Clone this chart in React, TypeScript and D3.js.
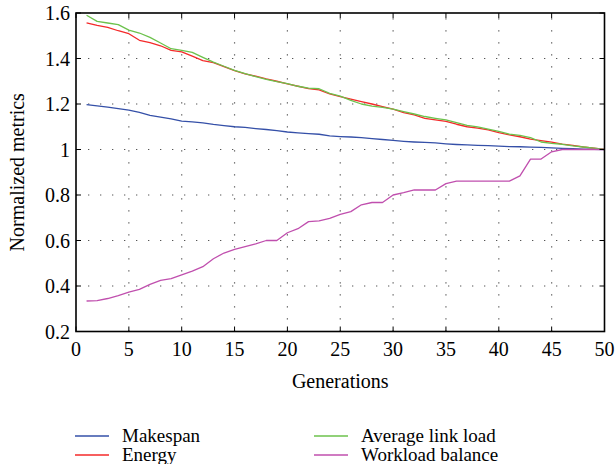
import React from 'react';
import * as d3 from 'd3';

const generations = d3.range(1, 51);

const makespan = [
  1.197, 1.192, 1.186, 1.18, 1.173, 1.163, 1.15, 1.142, 1.135, 1.125,
  1.121, 1.117, 1.11, 1.105, 1.1, 1.097, 1.092, 1.088, 1.083, 1.077,
  1.073, 1.07, 1.067, 1.06, 1.057, 1.055, 1.052, 1.048, 1.044, 1.04,
  1.036, 1.033, 1.031, 1.029, 1.025, 1.022, 1.02, 1.018, 1.017, 1.015,
  1.013, 1.012, 1.01, 1.009, 1.007, 1.005, 1.004, 1.002, 1.001, 1.0
];

const energy = [
  1.557, 1.546, 1.537, 1.522, 1.509, 1.48, 1.47, 1.456, 1.436, 1.429,
  1.41, 1.391, 1.382, 1.364, 1.347, 1.332, 1.322, 1.31, 1.3, 1.288,
  1.278, 1.268, 1.262, 1.244, 1.232, 1.221, 1.21, 1.2, 1.188, 1.177,
  1.162, 1.152, 1.137, 1.13, 1.124, 1.111, 1.1, 1.094, 1.086, 1.074,
  1.064, 1.056, 1.046, 1.039, 1.032, 1.024, 1.018, 1.011, 1.006, 1.0
];

const linkLoad = [
  1.59, 1.563, 1.556, 1.549, 1.525, 1.512, 1.493, 1.468, 1.443, 1.436,
  1.427, 1.405, 1.384, 1.366, 1.348, 1.334, 1.32, 1.308, 1.298, 1.29,
  1.278, 1.27, 1.267, 1.247, 1.235, 1.216, 1.2, 1.191, 1.185, 1.177,
  1.166, 1.156, 1.145, 1.137, 1.13, 1.118, 1.106, 1.099, 1.09, 1.08,
  1.068, 1.062, 1.052, 1.033, 1.027, 1.023, 1.016, 1.011, 1.006, 1.0
];

const workload = [
  0.334, 0.336, 0.345, 0.358, 0.373, 0.385, 0.407, 0.425, 0.432, 0.449,
  0.465, 0.485, 0.52, 0.545, 0.561, 0.573, 0.585, 0.6, 0.6, 0.634,
  0.652, 0.683, 0.686, 0.697, 0.715, 0.727, 0.757, 0.767, 0.767, 0.8,
  0.81, 0.822, 0.822, 0.822, 0.85, 0.861, 0.861, 0.861, 0.861, 0.861,
  0.861, 0.884, 0.958, 0.958, 0.99, 1.0, 1.0, 1.0, 1.0, 1.0
];

const xTicks = [0, 5, 10, 15, 20, 25, 30, 35, 40, 45, 50];
const yTicks = [0.2, 0.4, 0.6, 0.8, 1.0, 1.2, 1.4, 1.6];
const yTickLabels = ['0.2', '0.4', '0.6', '0.8', '1', '1.2', '1.4', '1.6'];

const series = [
  { name: 'Makespan', values: makespan, color: '#3550a8' },
  { name: 'Energy', values: energy, color: '#f42a2a' },
  { name: 'Average link load', values: linkLoad, color: '#6cc24c' },
  { name: 'Workload balance', values: workload, color: '#c04fae' }
];

const FONT = "'Liberation Serif', 'DejaVu Serif', serif";

export default function App() {
  const left = 76;
  const right = 604.5;
  const top = 13;
  const bottom = 331.5;

  const x = d3.scaleLinear().domain([0, 50]).range([left, right]);
  const y = d3.scaleLinear().domain([0.2, 1.6]).range([bottom, top]);

  const line = d3.line<number>()
    .x((d, i) => x(generations[i]))
    .y(d => y(d));

  const tick = 5;
  const fs = 20;
  const legendFs = 19;

  return (
    <svg width={616} height={464} style={{ position: 'absolute', left: 0, top: 0, background: '#fff', fontFamily: FONT }}>
      {/* grid */}
      <g stroke="#555" strokeWidth={1.2} strokeDasharray="1.3,10.7">
        {xTicks.slice(1, -1).map(t => (
          <line key={'gx' + t} x1={x(t)} x2={x(t)} y1={bottom} y2={top} />
        ))}
        {yTicks.slice(1, -1).map(t => (
          <line key={'gy' + t} x1={left} x2={right} y1={y(t)} y2={y(t)} />
        ))}
      </g>

      {/* series */}
      <g fill="none" strokeWidth={1.3} strokeLinejoin="round">
        {series.map(s => (
          <path key={s.name} d={line(s.values) || ''} stroke={s.color} />
        ))}
      </g>

      {/* ticks, inward on all sides */}
      <g stroke="#000" strokeWidth={1}>
        {xTicks.map(t => (
          <g key={'tx' + t}>
            <line x1={x(t)} x2={x(t)} y1={bottom} y2={bottom - tick} />
            <line x1={x(t)} x2={x(t)} y1={top} y2={top + tick} />
          </g>
        ))}
        {yTicks.map(t => (
          <g key={'ty' + t}>
            <line x1={left} x2={left + tick} y1={y(t)} y2={y(t)} />
            <line x1={right} x2={right - tick} y1={y(t)} y2={y(t)} />
          </g>
        ))}
      </g>

      {/* frame */}
      <rect x={left} y={top} width={right - left} height={bottom - top}
        fill="none" stroke="#000" strokeWidth={1.6} />

      {/* tick labels */}
      <g style={{ fontSize: fs }} fill="#000">
        {xTicks.map(t => (
          <text key={'lx' + t} x={x(t)} y={bottom + 24} textAnchor="middle">{t}</text>
        ))}
        {yTicks.map((t, i) => (
          <text key={'ly' + t} x={left - 6} y={y(t) + 7} textAnchor="end">{yTickLabels[i]}</text>
        ))}
      </g>

      {/* axis titles */}
      <text x={(left + right) / 2} y={388} textAnchor="middle" style={{ fontSize: fs }}>Generations</text>
      <text transform={`translate(24,${(top + bottom) / 2}) rotate(-90)`} textAnchor="middle" style={{ fontSize: fs }}>
        Normalized metrics
      </text>

      {/* legend */}
      <g style={{ fontSize: legendFs }}>
        {series.map((s, i) => {
          const col = Math.floor(i / 2);
          const row = i % 2;
          const lx = col === 0 ? 75 : 314;
          const ly = 436 + row * 19;
          return (
            <g key={'lg' + s.name}>
              <line x1={lx} x2={lx + 34} y1={ly} y2={ly} stroke={s.color} strokeWidth={1.3} />
              <text x={lx + 47} y={ly + 6}>{s.name}</text>
            </g>
          );
        })}
      </g>
    </svg>
  );
}
